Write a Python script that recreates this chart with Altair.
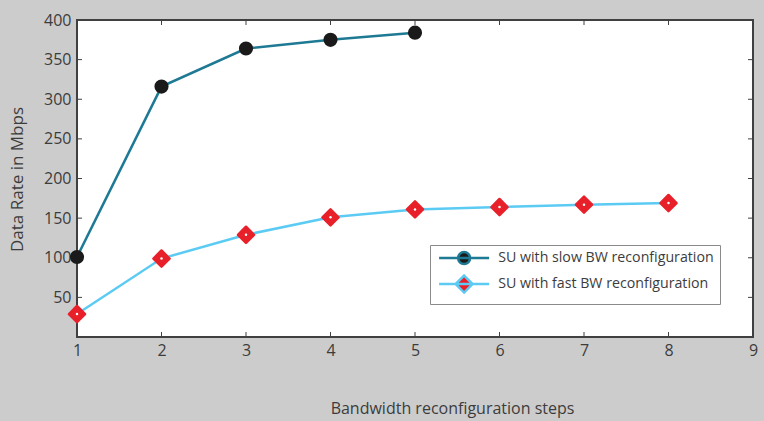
import altair as alt
import pandas as pd

# ---- data ----
steps_slow = [1, 2, 3, 4, 5]
rate_slow = [101, 316, 364, 375, 384]
steps_fast = [1, 2, 3, 4, 5, 6, 7, 8]
rate_fast = [29, 99, 129, 151, 161, 164, 167, 169]
series_names = ["SU with slow BW reconfiguration", "SU with fast BW reconfiguration"]
x_ticks = [1, 2, 3, 4, 5, 6, 7, 8, 9]
y_ticks = [0, 50, 100, 150, 200, 250, 300, 350, 400]

# ---- styles ----
LINE_COLORS = ["#1e7a94", "#5ccbf4"]
MARK_COLORS = ["#1a1a1a", "#e8202a"]
FONT = "Open Sans"
TXT = "#3c3c3c"
W, H = 676, 317

slow = pd.DataFrame({"step": steps_slow, "rate": rate_slow, "series": series_names[0]})
fast = pd.DataFrame({"step": steps_fast, "rate": rate_fast, "series": series_names[1]})
df = pd.concat([slow, fast], ignore_index=True)

xs = alt.Scale(domain=[1, 9], nice=False, zero=False)
ys = alt.Scale(domain=[0, 400], nice=False)

x_axis = alt.Axis(
    values=x_ticks, format="d", ticks=False, domain=False, grid=False, labelPadding=5,
    labelFontSize=16, labelFont=FONT, labelColor=TXT, labelFlush=False, labelOverlap=False,
    title="Bandwidth reconfiguration steps", titleFont=FONT, titleFontSize=16,
    titleFontWeight="normal", titleColor=TXT, titleX=375, titleY=71,
    titleBaseline="middle", titleAlign="center", titleAnchor="start")
y_axis = alt.Axis(
    values=y_ticks, ticks=False, domain=False, grid=False, labelPadding=6,
    labelFontSize=16, labelFont=FONT, labelColor=TXT, labelFlush=False, labelOverlap=False,
    labelExpr="datum.value == 0 ? '' : datum.label",
    title="Data Rate in Mbps", titleFont=FONT, titleFontSize=17,
    titleFontWeight="normal", titleColor=TXT, titleX=-60, titleY=159,
    titleAngle=270, titleBaseline="middle", titleAlign="center", titleAnchor="start")


def X(field):
    return alt.X(field, scale=xs, axis=x_axis)


def Y(field):
    return alt.Y(field, scale=ys, axis=y_axis)


base = alt.Chart(df)

slow_sym = "M-5,0H5M1.2,0A1.2,1.2,0,1,1,-1.2,0A1.2,1.2,0,1,1,1.2,0Z"
fast_sym = "M-5,0H5M0,-1.7L1.7,0L0,1.7L-1.7,0Z"

leg = alt.Legend(title=None, orient="none", legendX=353, legendY=225)

lines = base.mark_line(strokeWidth=2.5).encode(
    x=X("step:Q"), y=Y("rate:Q"),
    stroke=alt.Stroke("series:N", scale=alt.Scale(domain=series_names, range=LINE_COLORS), legend=leg),
)

circles = base.transform_filter(alt.datum.series == series_names[0]).mark_point(
    shape="circle", filled=True, color=MARK_COLORS[0], size=200, opacity=1
).encode(x=X("step:Q"), y=Y("rate:Q"))

diamonds = base.transform_filter(alt.datum.series == series_names[1]).mark_point(
    shape="diamond", filled=True, color=MARK_COLORS[1], size=260, opacity=1,
    stroke=MARK_COLORS[1], strokeWidth=2.5, strokeJoin="round"
).encode(x=X("step:Q"), y=Y("rate:Q"))

dots = base.transform_filter(alt.datum.series == series_names[1]).mark_point(
    shape="circle", filled=True, color="white", size=6, opacity=1
).encode(x=X("step:Q"), y=Y("rate:Q"))

legend_layer = base.mark_point(filled=True, opacity=0, size=100).encode(
    x=X("step:Q"), y=Y("rate:Q"),
    shape=alt.Shape("series:N", scale=alt.Scale(domain=series_names, range=[slow_sym, fast_sym]),
                    legend=leg),
    fill=alt.Fill("series:N", scale=alt.Scale(domain=series_names, range=MARK_COLORS),
                  legend=leg),
    stroke=alt.Stroke("series:N", legend=leg),
)

# inner tick marks (MATLAB style box)
xt = pd.DataFrame({"step": x_ticks})
yt = pd.DataFrame({"rate": y_ticks})
tick_color = "#404040"
bt = alt.Chart(xt).mark_rule(color=tick_color, strokeWidth=1).encode(
    x=X("step:Q"), y=alt.value(H - 5), y2=alt.value(H))
tt = alt.Chart(xt).mark_rule(color=tick_color, strokeWidth=1).encode(
    x=X("step:Q"), y=alt.value(0), y2=alt.value(5))
lt = alt.Chart(yt).mark_rule(color=tick_color, strokeWidth=1).encode(
    y=Y("rate:Q"), x=alt.value(0), x2=alt.value(5))
rt = alt.Chart(yt).mark_rule(color=tick_color, strokeWidth=1).encode(
    y=Y("rate:Q"), x=alt.value(W - 5), x2=alt.value(W))

chart = alt.layer(lines, bt, tt, lt, rt, circles, diamonds, dots, legend_layer).properties(
    width=W, height=H,
    autosize=alt.AutoSizeParams(type="none"),
    padding={"left": 77, "top": 20, "right": 11, "bottom": 84},
    background="#cccccc",
).configure_view(
    fill="white", stroke="#404040", strokeWidth=2
).configure_legend(
    fillColor="white", strokeColor="#8a8a8a", strokeWidth=1, cornerRadius=0,
    padding=6, symbolOffset=21, labelOffset=27, rowPadding=0,
    labelFont=FONT, labelFontSize=14.2, labelColor=TXT, labelLimit=400,
    symbolOpacity=1, symbolStrokeWidth=2.5, symbolSize=100,
)

chart.save("out.html", embed_options={"renderer": "svg", "actions": False})
